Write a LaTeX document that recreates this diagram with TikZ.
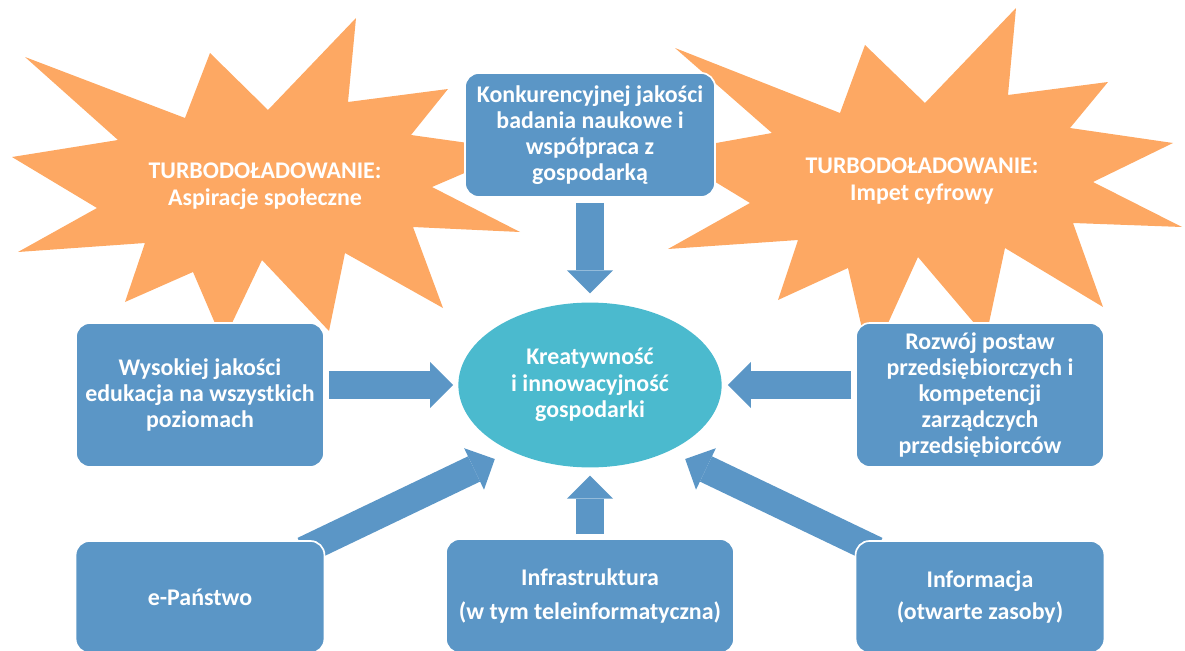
\documentclass[tikz,border=0pt]{standalone}
\usepackage{fontspec}
\setmainfont{Carlito}
\usetikzlibrary{arrows.meta,shapes.geometric,backgrounds}

\definecolor{boxblue}{HTML}{5B96C6}
\definecolor{burst}{HTML}{FDA863}
\definecolor{core}{HTML}{4BBACE}

\tikzset{
  box/.style={rectangle, rounded corners=0.35cm, fill=boxblue, draw=white,
    line width=1.2pt, text=white, align=center, inner sep=2pt,
    font=\bfseries\fontsize{17}{18.4}\selectfont},
  burstlabel/.style={text=white, align=center,
    font=\bfseries\fontsize{17}{19}\selectfont},
  bigarrow/.style={draw=boxblue, line width=0.7cm,
    -{Triangle[width=1.15cm,length=0.575cm,line width=0pt]}},
}

\begin{document}
\begin{tikzpicture}[x=0.025cm,y=-0.025cm]

    % Fix the frame of the picture
    \clip (0,0) rectangle (1185,651);

    % Left burst
    \fill[burst] (25,57) -- (185,118) -- (210,53) -- (268,110) -- (356,18)
      -- (348,102) -- (448,89) -- (411,135) -- (518,150) -- (432,187)
      -- (520,232) -- (413,227) -- (443,308) -- (345,253) -- (329,331)
      -- (262,260) -- (223,342) -- (193,272) -- (125,302) -- (145,243)
      -- (18,252) -- (97,208) -- (12,157) -- (118,140) -- cycle;

    % Right burst
    \fill[burst] (675,48) -- (840,113) -- (865,45) -- (925,103) -- (1016,8)
      -- (1008,95) -- (1108,82) -- (1070,128) -- (1173,143) -- (1093,182)
      -- (1182,227) -- (1073,223) -- (1103,307) -- (1005,248) -- (986,337)
      -- (918,257) -- (870,363) -- (848,268) -- (778,300) -- (798,240)
      -- (668,249) -- (750,203) -- (666,152) -- (772,133) -- cycle;

    % Labels of the bursts
    \node[burstlabel] (aspir) at (265,186) {TURBODOŁADOWANIE:\\Aspiracje społeczne};
    \node[burstlabel] (impet) at (922,181) {TURBODOŁADOWANIE:\\Impet cyfrowy};

    % Centre
    \node[ellipse, fill=core, text=white, align=center, inner sep=0pt,
      minimum width=6.58cm, minimum height=4.12cm,
      font=\bfseries\fontsize{17}{18.8}\selectfont]
      (kreat) at (590,385) {Kreatywność\\i innowacyjność\\gospodarki};

    % Boxes round the centre
    \node[box, minimum width=6.25cm, minimum height=3.1cm] (konk) at (590,135)
      {Konkurencyjnej jakości\\badania naukowe i\\współpraca z\\gospodarką};
    \node[box, minimum width=6.2cm, minimum height=3.6cm] (wys) at (200,395)
      {Wysokiej jakości\\edukacja na wszystkich\\poziomach};
    \node[box, minimum width=6.2cm, minimum height=3.6cm] (roz) at (980,395)
      {Rozwój postaw\\przedsiębiorczych i\\kompetencji\\zarządczych\\przedsiębiorców};
    \node[box, minimum width=6.22cm, minimum height=2.8cm] (epan) at (200,597)
      {e-Państwo};
    \node[box, minimum width=7.2cm, minimum height=2.85cm] (infra) at (590,596)
      {Infrastruktura\\[0.18cm](w tym teleinformatyczna)};
    \node[box, minimum width=6.22cm, minimum height=2.8cm] (info) at (980,597)
      {Informacja\\[0.16cm](otwarte zasoby)};

    % Arrows into the centre, behind the boxes
    \begin{scope}[on background layer]
      \draw[bigarrow, shorten <=0.125cm, shorten >=0.225cm] (konk.south) -- (kreat.north);
      \draw[bigarrow, shorten <=0.1cm, shorten >=0.125cm] (wys.east |- kreat.west) -- (kreat.west);
      \draw[bigarrow, shorten <=0.1cm, shorten >=0.15cm] (roz.west |- kreat.east) -- (kreat.east);
      \draw[bigarrow, shorten <=0.1cm, shorten >=0.2cm] (infra.north) -- (kreat.south);
      \draw[bigarrow, shorten <=-0.6cm, shorten >=0.45cm] (epan.north east) -- (kreat.220);
      \draw[bigarrow, shorten <=-0.6cm, shorten >=0.45cm] (info.north west) -- (kreat.320);
    \end{scope}

\end{tikzpicture}
\end{document}
